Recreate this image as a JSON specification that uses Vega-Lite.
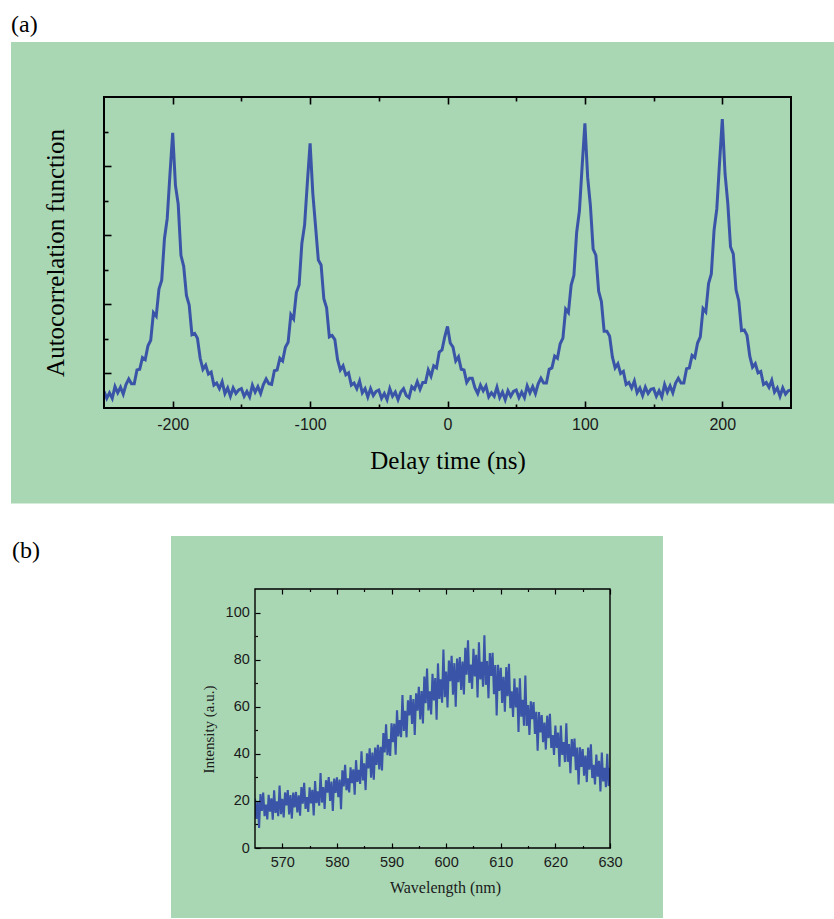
{
"$schema": "https://vega.github.io/schema/vega-lite/v6.json",
"background": "white",
"padding": {"left": 10, "top": 12, "right": 0, "bottom": 0},
"config": {"view": {"stroke": null}},
"bounds": "flush",
"spacing": 181,
"datasets": {
"acf": [
{"t":-250,"v":0.24},{"t":-248,"v":0.14},{"t":-246,"v":0.22},{"t":-244,"v":0.14},{"t":-242,"v":0.31},{"t":-240,"v":0.22},{"t":-238,"v":0.30},{"t":-236,"v":0.20},{"t":-234,"v":0.34},{"t":-232,"v":0.42},
{"t":-230,"v":0.35},{"t":-228,"v":0.35},{"t":-226,"v":0.55},{"t":-224,"v":0.56},{"t":-222,"v":0.73},{"t":-220,"v":0.70},{"t":-218,"v":0.90},{"t":-216,"v":0.98},{"t":-214,"v":1.38},{"t":-212,"v":1.33},
{"t":-210,"v":1.72},{"t":-208,"v":1.85},{"t":-206,"v":2.45},{"t":-204,"v":2.74},{"t":-202,"v":3.38},{"t":-200,"v":3.98},{"t":-198,"v":3.22},{"t":-196,"v":2.95},{"t":-194,"v":2.21},{"t":-192,"v":2.05},
{"t":-190,"v":1.63},{"t":-188,"v":1.49},{"t":-186,"v":1.06},{"t":-184,"v":1.08},{"t":-182,"v":1.01},{"t":-180,"v":0.72},{"t":-178,"v":0.56},{"t":-176,"v":0.62},{"t":-174,"v":0.49},{"t":-172,"v":0.52},
{"t":-170,"v":0.33},{"t":-168,"v":0.36},{"t":-166,"v":0.28},{"t":-164,"v":0.38},{"t":-162,"v":0.21},{"t":-160,"v":0.29},{"t":-158,"v":0.17},{"t":-156,"v":0.29},{"t":-154,"v":0.21},{"t":-152,"v":0.26},
{"t":-150,"v":0.28},{"t":-148,"v":0.17},{"t":-146,"v":0.24},{"t":-144,"v":0.16},{"t":-142,"v":0.33},{"t":-140,"v":0.23},{"t":-138,"v":0.31},{"t":-136,"v":0.21},{"t":-134,"v":0.34},{"t":-132,"v":0.42},
{"t":-130,"v":0.35},{"t":-128,"v":0.34},{"t":-126,"v":0.54},{"t":-124,"v":0.55},{"t":-122,"v":0.72},{"t":-120,"v":0.68},{"t":-118,"v":0.88},{"t":-116,"v":0.95},{"t":-114,"v":1.35},{"t":-112,"v":1.29},
{"t":-110,"v":1.67},{"t":-108,"v":1.78},{"t":-106,"v":2.38},{"t":-104,"v":2.65},{"t":-102,"v":3.26},{"t":-100,"v":3.83},{"t":-98,"v":3.10},{"t":-96,"v":2.62},{"t":-94,"v":2.14},{"t":-92,"v":2.07},
{"t":-90,"v":1.58},{"t":-88,"v":1.45},{"t":-86,"v":1.03},{"t":-84,"v":1.05},{"t":-82,"v":0.99},{"t":-80,"v":0.70},{"t":-78,"v":0.55},{"t":-76,"v":0.61},{"t":-74,"v":0.48},{"t":-72,"v":0.51},
{"t":-70,"v":0.33},{"t":-68,"v":0.36},{"t":-66,"v":0.28},{"t":-64,"v":0.39},{"t":-62,"v":0.22},{"t":-60,"v":0.28},{"t":-58,"v":0.16},{"t":-56,"v":0.28},{"t":-54,"v":0.18},{"t":-52,"v":0.24},
{"t":-50,"v":0.26},{"t":-48,"v":0.14},{"t":-46,"v":0.21},{"t":-44,"v":0.12},{"t":-42,"v":0.28},{"t":-40,"v":0.17},{"t":-38,"v":0.23},{"t":-36,"v":0.12},{"t":-34,"v":0.23},{"t":-32,"v":0.28},
{"t":-30,"v":0.18},{"t":-28,"v":0.15},{"t":-26,"v":0.31},{"t":-24,"v":0.27},{"t":-22,"v":0.38},{"t":-20,"v":0.27},{"t":-18,"v":0.37},{"t":-16,"v":0.37},{"t":-14,"v":0.55},{"t":-12,"v":0.46},
{"t":-10,"v":0.61},{"t":-8,"v":0.58},{"t":-6,"v":0.81},{"t":-4,"v":0.84},{"t":-2,"v":1.03},{"t":0,"v":1.18},{"t":2,"v":0.94},{"t":4,"v":0.88},{"t":6,"v":0.68},{"t":8,"v":0.74},
{"t":10,"v":0.56},{"t":12,"v":0.55},{"t":14,"v":0.37},{"t":16,"v":0.43},{"t":18,"v":0.43},{"t":20,"v":0.29},{"t":22,"v":0.21},{"t":24,"v":0.33},{"t":26,"v":0.25},{"t":28,"v":0.32},
{"t":30,"v":0.16},{"t":32,"v":0.22},{"t":34,"v":0.17},{"t":36,"v":0.30},{"t":38,"v":0.15},{"t":40,"v":0.23},{"t":42,"v":0.12},{"t":44,"v":0.25},{"t":46,"v":0.17},{"t":48,"v":0.24},
{"t":50,"v":0.26},{"t":52,"v":0.15},{"t":54,"v":0.23},{"t":56,"v":0.15},{"t":58,"v":0.32},{"t":60,"v":0.22},{"t":62,"v":0.31},{"t":64,"v":0.21},{"t":66,"v":0.35},{"t":68,"v":0.43},
{"t":70,"v":0.36},{"t":72,"v":0.36},{"t":74,"v":0.56},{"t":76,"v":0.58},{"t":78,"v":0.75},{"t":80,"v":0.72},{"t":82,"v":0.93},{"t":84,"v":1.01},{"t":86,"v":1.43},{"t":88,"v":1.38},
{"t":90,"v":1.78},{"t":92,"v":1.92},{"t":94,"v":2.54},{"t":96,"v":2.85},{"t":98,"v":3.50},{"t":100,"v":4.12},{"t":102,"v":3.34},{"t":104,"v":2.93},{"t":106,"v":2.30},{"t":108,"v":2.21},
{"t":110,"v":1.69},{"t":112,"v":1.54},{"t":114,"v":1.11},{"t":116,"v":1.11},{"t":118,"v":1.04},{"t":120,"v":0.74},{"t":122,"v":0.58},{"t":124,"v":0.64},{"t":126,"v":0.50},{"t":128,"v":0.53},
{"t":130,"v":0.34},{"t":132,"v":0.37},{"t":134,"v":0.29},{"t":136,"v":0.39},{"t":138,"v":0.22},{"t":140,"v":0.29},{"t":142,"v":0.18},{"t":144,"v":0.30},{"t":146,"v":0.21},{"t":148,"v":0.27},
{"t":150,"v":0.28},{"t":152,"v":0.17},{"t":154,"v":0.25},{"t":156,"v":0.16},{"t":158,"v":0.34},{"t":160,"v":0.23},{"t":162,"v":0.32},{"t":164,"v":0.22},{"t":166,"v":0.36},{"t":168,"v":0.43},
{"t":170,"v":0.36},{"t":172,"v":0.36},{"t":174,"v":0.57},{"t":176,"v":0.58},{"t":178,"v":0.76},{"t":180,"v":0.73},{"t":182,"v":0.94},{"t":184,"v":1.03},{"t":186,"v":1.44},{"t":188,"v":1.39},
{"t":190,"v":1.80},{"t":192,"v":1.94},{"t":194,"v":2.57},{"t":196,"v":2.88},{"t":198,"v":3.55},{"t":200,"v":4.18},{"t":202,"v":3.39},{"t":204,"v":2.96},{"t":206,"v":2.33},{"t":208,"v":2.23},
{"t":210,"v":1.71},{"t":212,"v":1.55},{"t":214,"v":1.12},{"t":216,"v":1.13},{"t":218,"v":1.05},{"t":220,"v":0.75},{"t":222,"v":0.59},{"t":224,"v":0.64},{"t":226,"v":0.51},{"t":228,"v":0.53},
{"t":230,"v":0.34},{"t":232,"v":0.37},{"t":234,"v":0.30},{"t":236,"v":0.40},{"t":238,"v":0.23},{"t":240,"v":0.29},{"t":242,"v":0.17},{"t":244,"v":0.29},{"t":246,"v":0.20},{"t":248,"v":0.25},
{"t":250,"v":0.26}
],
"spec": [
{"wl":565,"i":21.0},{"wl":565.25,"i":12.3},{"wl":565.5,"i":19.6},{"wl":565.75,"i":8.5},{"wl":566,"i":22.9},{"wl":566.25,"i":15.8},{"wl":566.5,"i":23.5},{"wl":566.75,"i":13.5},{"wl":567,"i":18.4},{"wl":567.25,"i":12.1},
{"wl":567.5,"i":22.6},{"wl":567.75,"i":15.4},{"wl":568,"i":21.1},{"wl":568.25,"i":12.0},{"wl":568.5,"i":24.5},{"wl":568.75,"i":14.9},{"wl":569,"i":19.8},{"wl":569.25,"i":13.5},{"wl":569.5,"i":26.5},{"wl":569.75,"i":14.4},
{"wl":570,"i":20.9},{"wl":570.25,"i":13.0},{"wl":570.5,"i":23.6},{"wl":570.75,"i":18.1},{"wl":571,"i":24.6},{"wl":571.25,"i":14.3},{"wl":571.5,"i":22.5},{"wl":571.75,"i":12.5},{"wl":572,"i":23.5},{"wl":572.25,"i":17.2},
{"wl":572.5,"i":23.8},{"wl":572.75,"i":15.1},{"wl":573,"i":22.4},{"wl":573.25,"i":13.7},{"wl":573.5,"i":25.9},{"wl":573.75,"i":18.8},{"wl":574,"i":27.7},{"wl":574.25,"i":16.6},{"wl":574.5,"i":21.6},{"wl":574.75,"i":15.3},
{"wl":575,"i":25.8},{"wl":575.25,"i":18.9},{"wl":575.5,"i":24.7},{"wl":575.75,"i":13.8},{"wl":576,"i":28.4},{"wl":576.25,"i":19.1},{"wl":576.5,"i":24.1},{"wl":576.75,"i":18.0},{"wl":577,"i":31.8},{"wl":577.25,"i":19.3},
{"wl":577.5,"i":25.9},{"wl":577.75,"i":16.6},{"wl":578,"i":28.8},{"wl":578.25,"i":23.5},{"wl":578.5,"i":30.1},{"wl":578.75,"i":20.0},{"wl":579,"i":28.2},{"wl":579.25,"i":15.7},{"wl":579.5,"i":29.5},{"wl":579.75,"i":23.4},
{"wl":580,"i":30.0},{"wl":580.25,"i":21.6},{"wl":580.5,"i":29.1},{"wl":580.75,"i":16.5},{"wl":581,"i":33.0},{"wl":581.25,"i":26.2},{"wl":581.5,"i":35.3},{"wl":581.75,"i":24.5},{"wl":582,"i":29.6},{"wl":582.25,"i":23.6},
{"wl":582.5,"i":34.3},{"wl":582.75,"i":27.5},{"wl":583,"i":33.4},{"wl":583.25,"i":22.6},{"wl":583.5,"i":37.3},{"wl":583.75,"i":28.1},{"wl":584,"i":33.2},{"wl":584.25,"i":27.2},{"wl":584.5,"i":41.1},{"wl":584.75,"i":28.7},
{"wl":585,"i":36.0},{"wl":585.25,"i":24.6},{"wl":585.5,"i":40.2},{"wl":585.75,"i":33.8},{"wl":586,"i":42.3},{"wl":586.25,"i":29.9},{"wl":586.5,"i":40.5},{"wl":586.75,"i":29.0},{"wl":587,"i":42.7},{"wl":587.25,"i":35.3},
{"wl":587.5,"i":43.8},{"wl":587.75,"i":33.4},{"wl":588,"i":43.0},{"wl":588.25,"i":32.9},{"wl":588.5,"i":48.8},{"wl":588.75,"i":40.6},{"wl":589,"i":52.5},{"wl":589.25,"i":39.4},{"wl":589.5,"i":46.3},{"wl":589.75,"i":39.1},
{"wl":590,"i":53.0},{"wl":590.25,"i":44.9},{"wl":590.5,"i":52.8},{"wl":590.75,"i":39.6},{"wl":591,"i":58.5},{"wl":591.25,"i":47.4},{"wl":591.5,"i":54.3},{"wl":591.75,"i":47.1},{"wl":592,"i":65.0},{"wl":592.25,"i":49.7},
{"wl":592.5,"i":58.3},{"wl":592.75,"i":47.0},{"wl":593,"i":62.7},{"wl":593.25,"i":56.3},{"wl":593.5,"i":65.0},{"wl":593.75,"i":52.7},{"wl":594,"i":63.3},{"wl":594.25,"i":48.0},{"wl":594.5,"i":65.7},{"wl":594.75,"i":58.3},
{"wl":595,"i":68.5},{"wl":595.25,"i":54.6},{"wl":595.5,"i":66.7},{"wl":595.75,"i":52.9},{"wl":596,"i":72.8},{"wl":596.25,"i":61.5},{"wl":596.5,"i":76.2},{"wl":596.75,"i":58.4},{"wl":597,"i":66.6},{"wl":597.25,"i":56.7},
{"wl":597.5,"i":74.0},{"wl":597.75,"i":62.7},{"wl":598,"i":72.2},{"wl":598.25,"i":54.5},{"wl":598.5,"i":78.4},{"wl":598.75,"i":63.3},{"wl":599,"i":71.6},{"wl":599.25,"i":61.7},{"wl":599.5,"i":84.3},{"wl":599.75,"i":64.0},
{"wl":600,"i":74.9},{"wl":600.25,"i":59.7},{"wl":600.5,"i":79.6},{"wl":600.75,"i":70.8},{"wl":601,"i":81.6},{"wl":601.25,"i":65.1},{"wl":601.5,"i":78.5},{"wl":601.75,"i":60.0},{"wl":602,"i":80.5},{"wl":602.25,"i":70.4},
{"wl":602.5,"i":81.1},{"wl":602.75,"i":67.1},{"wl":603,"i":79.2},{"wl":603.25,"i":65.2},{"wl":603.5,"i":85.0},{"wl":603.75,"i":73.6},{"wl":604,"i":88.2},{"wl":604.25,"i":70.1},{"wl":604.5,"i":77.9},{"wl":604.75,"i":67.6},
{"wl":605,"i":84.6},{"wl":605.25,"i":72.9},{"wl":605.5,"i":82.1},{"wl":605.75,"i":63.9},{"wl":606,"i":87.4},{"wl":606.25,"i":71.6},{"wl":606.5,"i":79.1},{"wl":606.75,"i":68.5},{"wl":607,"i":90.3},{"wl":607.25,"i":69.3},
{"wl":607.5,"i":79.4},{"wl":607.75,"i":63.6},{"wl":608,"i":82.8},{"wl":608.25,"i":73.1},{"wl":608.5,"i":82.9},{"wl":608.75,"i":65.3},{"wl":609,"i":77.7},{"wl":609.25,"i":56.3},{"wl":609.5,"i":77.8},{"wl":609.75,"i":66.7},
{"wl":610,"i":76.5},{"wl":610.25,"i":61.6},{"wl":610.5,"i":72.7},{"wl":610.75,"i":57.9},{"wl":611,"i":76.8},{"wl":611.25,"i":64.5},{"wl":611.5,"i":78.2},{"wl":611.75,"i":59.4},{"wl":612,"i":66.6},{"wl":612.25,"i":55.7},
{"wl":612.5,"i":72.0},{"wl":612.75,"i":59.7},{"wl":613,"i":68.2},{"wl":613.25,"i":49.3},{"wl":613.5,"i":72.1},{"wl":613.75,"i":55.8},{"wl":614,"i":62.9},{"wl":614.25,"i":51.9},{"wl":614.5,"i":73.3},{"wl":614.75,"i":51.8},
{"wl":615,"i":60.7},{"wl":615.25,"i":48.0},{"wl":615.5,"i":62.3},{"wl":615.75,"i":54.7},{"wl":616,"i":62.0},{"wl":616.25,"i":48.4},{"wl":616.5,"i":57.8},{"wl":616.75,"i":41.3},{"wl":617,"i":57.7},{"wl":617.25,"i":49.1},
{"wl":617.5,"i":56.5},{"wl":617.75,"i":44.9},{"wl":618,"i":53.3},{"wl":618.25,"i":41.8},{"wl":618.5,"i":56.2},{"wl":618.75,"i":46.6},{"wl":619,"i":57.0},{"wl":619.25,"i":42.5},{"wl":619.5,"i":48.0},{"wl":619.75,"i":39.5},
{"wl":620,"i":52.0},{"wl":620.25,"i":42.5},{"wl":620.5,"i":49.0},{"wl":620.75,"i":34.5},{"wl":621,"i":52.0},{"wl":621.25,"i":39.5},{"wl":621.5,"i":45.0},{"wl":621.75,"i":36.5},{"wl":622,"i":53.0},{"wl":622.25,"i":36.6},
{"wl":622.5,"i":44.2},{"wl":622.75,"i":31.8},{"wl":623,"i":46.3},{"wl":623.25,"i":38.9},{"wl":623.5,"i":46.5},{"wl":623.75,"i":33.1},{"wl":624,"i":42.7},{"wl":624.25,"i":27.0},{"wl":624.5,"i":42.8},{"wl":624.75,"i":34.4},
{"wl":625,"i":42.0},{"wl":625.25,"i":30.7},{"wl":625.5,"i":39.3},{"wl":625.75,"i":28.0},{"wl":626,"i":42.7},{"wl":626.25,"i":33.3},{"wl":626.5,"i":44.0},{"wl":626.75,"i":29.7},{"wl":627,"i":35.3},{"wl":627.25,"i":27.0},
{"wl":627.5,"i":39.7},{"wl":627.75,"i":30.3},{"wl":628,"i":37.0},{"wl":628.25,"i":24.0},{"wl":628.5,"i":40.5},{"wl":628.75,"i":28.3},{"wl":629,"i":34.0},{"wl":629.25,"i":25.8},{"wl":629.5,"i":40.0},{"wl":629.75,"i":26.3},
{"wl":630,"i":34.0}
]
},
"vconcat": [
{
"width": 687,
"height": 311,
"title": {"text": "(a)", "anchor": "start", "frame": "bounds", "font": "Liberation Serif", "fontSize": 24, "fontWeight": "normal", "color": "black", "baseline": "alphabetic", "offset": -14},
"resolve": {"axis": {"x": "independent", "y": "independent"}},
"layer": [
{
"data": {"values": [{}]},
"mark": {"type": "rect", "fill": "#a9d7b4", "clip": false},
"encoding": {
"x": {"datum": -317.69, "type": "quantitative", "scale": {"domain": [-250, 250], "nice": false, "zero": false}, "axis": null},
"x2": {"datum": 282.0},
"y": {"datum": -1.382, "type": "quantitative", "scale": {"domain": [0, 4.5], "nice": false, "zero": false}, "axis": null},
"y2": {"datum": 5.296}
}
},
{
"data": {"name": "acf"},
"mark": {"type": "line", "color": "#3a55a8", "strokeWidth": 3, "clip": true},
"encoding": {
"x": {"field": "t", "type": "quantitative", "scale": {"domain": [-250, 250], "nice": false, "zero": false},
"axis": {"orient": "bottom", "values": [-200, -100, 0, 100, 200], "labelExpr": "toString(datum.value)", "tickSize": -7, "tickWidth": 1.6, "tickColor": "black", "domain": false, "grid": false, "labelFont": "Liberation Sans", "labelFontSize": 16, "labelColor": "#1a1a1a", "labelPadding": 15, "labelFlush": false, "labelOverlap": false, "title": "Delay time (ns)", "titleFont": "Liberation Serif", "titleFontSize": 25, "titleFontWeight": "normal", "titleColor": "black", "titlePadding": 16, "zindex": 1}},
"y": {"field": "v", "type": "quantitative", "scale": {"domain": [0, 4.5], "nice": false, "zero": false},
"axis": {"orient": "left", "values": [0.5, 1.5, 2.5, 3.5], "tickSize": -7, "tickWidth": 1.6, "tickColor": "black", "domain": false, "grid": false, "labels": false, "title": "Autocorrelation function", "titleFont": "Liberation Serif", "titleFontSize": 25, "titleFontWeight": "normal", "titleColor": "black", "titlePadding": 34.5, "zindex": 1}}
}
},
{
"data": {"values": [{}]},
"mark": {"type": "rect", "filled": false, "color": "black", "strokeWidth": 2, "clip": false},
"encoding": {
"x": {"datum": -250, "type": "quantitative", "scale": {"domain": [-250, 250], "nice": false, "zero": false},
"axis": {"orient": "bottom", "values": [-150, -50, 50, 150], "tickSize": -4, "tickWidth": 1.6, "tickColor": "black", "domain": false, "grid": false, "labels": false, "title": null, "zindex": 1}},
"x2": {"datum": 250},
"y": {"datum": 0, "type": "quantitative", "scale": {"domain": [0, 4.5], "nice": false, "zero": false},
"axis": {"orient": "left", "values": [1, 2, 3, 4], "tickSize": -4, "tickWidth": 1.6, "tickColor": "black", "domain": false, "grid": false, "labels": false, "title": null, "zindex": 1}},
"y2": {"datum": 4.5}
}
},
{
"data": {"values": [{}]},
"mark": {"type": "point", "opacity": 0},
"encoding": {
"x": {"datum": -250, "type": "quantitative", "scale": {"domain": [-250, 250], "nice": false, "zero": false},
"axis": {"orient": "top", "values": [-200, -100, 0, 100, 200], "tickSize": -7, "tickWidth": 1.6, "tickColor": "black", "domain": false, "grid": false, "labels": false, "title": null, "zindex": 1}},
"y": {"datum": 0, "type": "quantitative", "scale": {"domain": [0, 4.5], "nice": false, "zero": false}, "axis": null}
}
},
{
"data": {"values": [{}]},
"mark": {"type": "point", "opacity": 0},
"encoding": {
"x": {"datum": -250, "type": "quantitative", "scale": {"domain": [-250, 250], "nice": false, "zero": false},
"axis": {"orient": "top", "values": [-150, -50, 50, 150], "tickSize": -4, "tickWidth": 1.6, "tickColor": "black", "domain": false, "grid": false, "labels": false, "title": null, "zindex": 1}},
"y": {"datum": 0, "type": "quantitative", "scale": {"domain": [0, 4.5], "nice": false, "zero": false}, "axis": null}
}
}
]
},
{
"bounds": "flush",
"spacing": 0,
"hconcat": [
{
"width": 151,
"height": 20,
"data": {"values": [{}]},
"mark": {"type": "point", "opacity": 0}
},
{
"width": 355,
"height": 259,
"title": {"text": "(b)", "anchor": "start", "frame": "bounds", "font": "Liberation Serif", "fontSize": 24, "fontWeight": "normal", "color": "black", "baseline": "alphabetic", "offset": -46, "dx": -159},
"resolve": {"axis": {"x": "independent", "y": "independent"}},
"layer": [
{
"data": {"values": [{}]},
"mark": {"type": "rect", "fill": "#a9d7b4", "clip": false},
"encoding": {
"x": {"datum": 549.62, "type": "quantitative", "scale": {"domain": [565, 630], "nice": false, "zero": false}, "axis": null},
"x2": {"datum": 639.7},
"y": {"datum": -29.73, "type": "quantitative", "scale": {"domain": [0, 110], "nice": false, "zero": false}, "axis": null},
"y2": {"datum": 132.51}
}
},
{
"data": {"name": "spec"},
"mark": {"type": "line", "color": "#3a55a8", "strokeWidth": 2.1, "clip": true},
"encoding": {
"x": {"field": "wl", "type": "quantitative", "scale": {"domain": [565, 630], "nice": false, "zero": false},
"axis": {"orient": "bottom", "values": [570, 580, 590, 600, 610, 620, 630], "tickSize": -5, "tickWidth": 1.2, "tickColor": "black", "domain": false, "grid": false, "labelFont": "Liberation Sans", "labelFontSize": 14.5, "labelColor": "#1a1a1a", "labelPadding": 12.3, "labelFlush": false, "labelOverlap": false, "title": "Wavelength (nm)", "titleFont": "Liberation Serif", "titleFontSize": 16, "titleFontWeight": "normal", "titleColor": "#1a1a1a", "titlePadding": 11, "titleX": 190, "zindex": 1}},
"y": {"field": "i", "type": "quantitative", "scale": {"domain": [0, 110], "nice": false, "zero": false},
"axis": {"orient": "left", "values": [0, 20, 40, 60, 80, 100], "tickSize": -5, "tickWidth": 1.2, "tickColor": "black", "domain": false, "grid": false, "labelFont": "Liberation Sans", "labelFontSize": 14.5, "labelColor": "#1a1a1a", "labelPadding": 10.7, "labelFlush": false, "labelOverlap": false, "title": "Intensity (a.u.)", "titleFont": "Liberation Serif", "titleFontSize": 15, "titleFontWeight": "normal", "titleColor": "#1a1a1a", "titlePadding": 9, "titleY": 140, "zindex": 1}}
}
},
{
"data": {"values": [{}]},
"mark": {"type": "rect", "filled": false, "color": "black", "strokeWidth": 1.4, "clip": false},
"encoding": {
"x": {"datum": 565, "type": "quantitative", "scale": {"domain": [565, 630], "nice": false, "zero": false},
"axis": {"orient": "bottom", "values": [575, 585, 595, 605, 615, 625], "tickSize": -2.5, "tickWidth": 1.2, "tickColor": "black", "domain": false, "grid": false, "labels": false, "title": null, "zindex": 1}},
"x2": {"datum": 630},
"y": {"datum": 0, "type": "quantitative", "scale": {"domain": [0, 110], "nice": false, "zero": false},
"axis": {"orient": "left", "values": [10, 30, 50, 70, 90], "tickSize": -2.5, "tickWidth": 1.2, "tickColor": "black", "domain": false, "grid": false, "labels": false, "title": null, "zindex": 1}},
"y2": {"datum": 110}
}
},
{
"data": {"values": [{}]},
"mark": {"type": "point", "opacity": 0},
"encoding": {
"x": {"datum": 565, "type": "quantitative", "scale": {"domain": [565, 630], "nice": false, "zero": false},
"axis": {"orient": "top", "values": [570, 580, 590, 600, 610, 620, 630], "tickSize": -5, "tickWidth": 1.2, "tickColor": "black", "domain": false, "grid": false, "labels": false, "title": null, "zindex": 1}},
"y": {"datum": 0, "type": "quantitative", "scale": {"domain": [0, 110], "nice": false, "zero": false}, "axis": null}
}
},
{
"data": {"values": [{}]},
"mark": {"type": "point", "opacity": 0},
"encoding": {
"x": {"datum": 565, "type": "quantitative", "scale": {"domain": [565, 630], "nice": false, "zero": false},
"axis": {"orient": "top", "values": [575, 585, 595, 605, 615, 625], "tickSize": -2.5, "tickWidth": 1.2, "tickColor": "black", "domain": false, "grid": false, "labels": false, "title": null, "zindex": 1}},
"y": {"datum": 0, "type": "quantitative", "scale": {"domain": [0, 110], "nice": false, "zero": false}, "axis": null}
}
}
]
}
]
}
]
}
